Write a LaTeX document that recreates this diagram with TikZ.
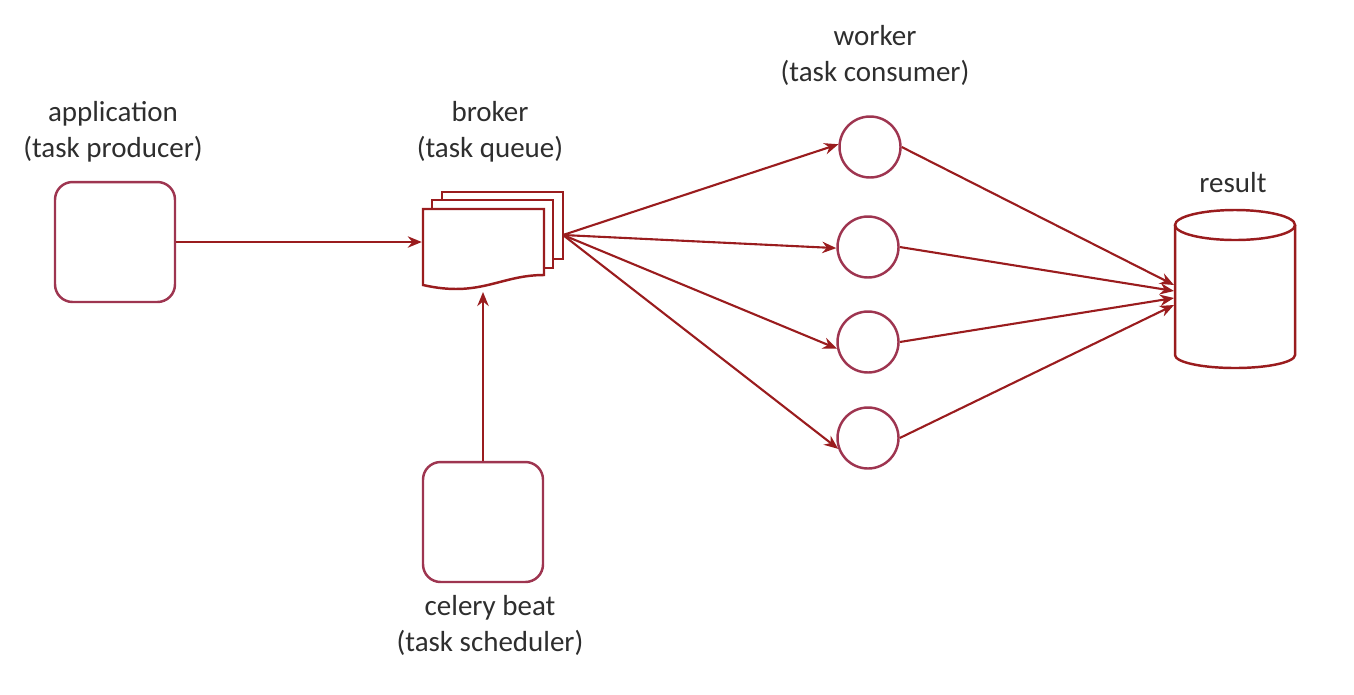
\documentclass[tikz,border=0pt]{standalone}
\usepackage{fontspec}
\setmainfont{Carlito}
\usepackage{tikz}
\usetikzlibrary{arrows.meta,positioning,calc}
\definecolor{boxred}{HTML}{9E3550}
\definecolor{arrred}{HTML}{9A1C1E}
\definecolor{txt}{HTML}{2E2E2E}

\begin{document}
\begin{tikzpicture}[x=0.02cm, y=-0.02cm, line width=1.4pt,
    lbl/.style={text=txt, font=\fontsize{16.5}{20.5}\selectfont, align=center},
    flow/.style={draw=arrred, line width=1.2pt, -{Stealth[length=8pt,width=6.5pt]}}]
   \useasboundingbox (0,0) rectangle (1354,694);
   \begin{scope}[every node/.style={draw=boxred, rounded corners=10pt, minimum width=2.4cm, minimum height=2.4cm}]
    \node (app)  at (115,242) {};
    \node (beat) at (483,522) {};
   \end{scope}
   \begin{scope}[every node/.style={circle, draw=boxred, minimum size=1.22cm, inner sep=0pt}]
    \node (w1) at (870,147) {};
    \node (w2) at (868,247) {};
    \node (w3) at (868,342) {};
    \node (w4) at (868,438) {};
   \end{scope}
   % broker: stack of pages
   \begin{scope}[draw=arrred]
    \draw[fill=white] (442,192) rectangle (563,259);
    \draw[fill=white] (432,200) rectangle (553,268);
    \draw[fill=white] (423,209) -- (544,209) -- (544,275)
        .. controls (500,275) and (480,298) .. (423,285) -- cycle;
   \end{scope}
   \node (broker) [minimum width=2.4cm, minimum height=1.6cm] at (483,248) {};
   \coordinate (bout) at (563,235);
   % result: cylinder
   \begin{scope}[draw=arrred]
    \draw (1175,225) -- (1175,355) arc[start angle=180, end angle=0, x radius=60, y radius=13] -- (1295,225);
    \draw (1235,225) ellipse [x radius=60, y radius=15];
   \end{scope}
   \node (result) [minimum width=2.4cm, minimum height=2.9cm] at (1235,290) {};
   % labels
   \node[lbl] at (113,132) {application\\(task producer)};
   \node[lbl] at (490,132) {broker\\(task queue)};
   \node[lbl] at (875,55) {worker\\(task consumer)};
   \node[lbl] at (1233,183) {result};
   \node[lbl] at (490,625) {celery beat\\(task scheduler)};
   % arrows
   \draw[flow] (app.east) -- (app.east -| broker.west);
   \draw[flow] (beat.north) -- (483,292);
   \foreach \w/\a in {w1/175, w2/182, w3/192, w4/200} {
    \draw[flow] (bout) -- (\w.\a);
   }
   \foreach \w/\y in {w1/285, w2/291, w3/298, w4/305} {
    \draw[flow] (\w.east) -- (1174,\y);
   }
\end{tikzpicture}
\end{document}
